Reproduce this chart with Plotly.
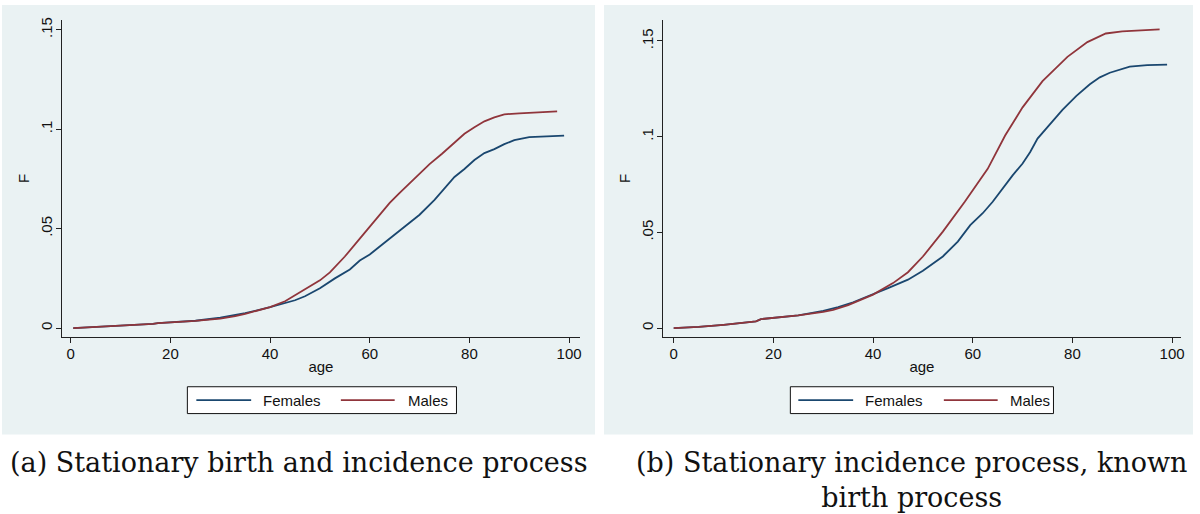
import plotly.graph_objects as go

# ---------------- data ----------------
# Panel (a): Stationary birth and incidence process
a_fem_age = [0.5, 5, 10, 15, 16.5, 17.5, 20, 25, 30, 35, 40, 45, 47, 50, 53, 56, 58, 60, 62, 65, 67,
             70, 73, 75, 77, 79, 81, 83, 85, 87, 89, 92, 95, 99]
a_fem_F = [0.0, 0.0005, 0.0012, 0.0019, 0.0021, 0.0025, 0.0028, 0.0037, 0.0052, 0.0075, 0.0105, 0.0140,
           0.0160, 0.0200, 0.0250, 0.0295, 0.0340, 0.0370, 0.0410, 0.0470, 0.0510, 0.0570, 0.0645,
           0.0700, 0.0760, 0.0800, 0.0845, 0.0880, 0.0900, 0.0925, 0.0945, 0.0960, 0.0965, 0.0968]
a_mal_age = [0.5, 5, 10, 15, 16.5, 17.5, 20, 25, 30, 33, 35, 40, 43, 47, 50, 52, 55, 58, 60, 62, 64,
             66, 68, 70, 72, 74.5, 77, 79, 81, 83, 85, 87, 90, 95, 97.6]
a_mal_F = [0.0, 0.0005, 0.0012, 0.0019, 0.0021, 0.0025, 0.0028, 0.0036, 0.0048, 0.0060, 0.0072, 0.0105,
           0.0135, 0.0195, 0.0240, 0.0280, 0.0360, 0.0450, 0.0510, 0.0570, 0.0630, 0.0680, 0.0730,
           0.0780, 0.0825, 0.0877, 0.0930, 0.0977, 0.1010, 0.1040, 0.1060, 0.1075, 0.1080, 0.1085, 0.1090]

# Panel (b): Stationary incidence process, known birth process
b_fem_age = [0, 5, 10, 15, 16.5, 17.5, 20, 25, 30, 33, 36, 40, 43, 47, 50, 54, 57, 59.5, 62, 64, 66,
             68, 70, 71.5, 73, 75, 78, 80.8, 83.5, 85.5, 87.5, 91.5, 95, 99]
b_fem_F = [0.0, 0.0006, 0.0017, 0.0030, 0.0035, 0.0047, 0.0053, 0.0066, 0.0090, 0.0110, 0.0135, 0.0175,
           0.0209, 0.0253, 0.0300, 0.0374, 0.0452, 0.0538, 0.0600, 0.0660, 0.0730, 0.0798, 0.0860,
           0.0919, 0.0990, 0.1049, 0.1140, 0.1213, 0.1274, 0.1310, 0.1334, 0.1366, 0.1374, 0.1376]
b_mal_age = [0, 5, 10, 15, 16.5, 17.5, 20, 25, 30, 32, 35, 40, 44, 47, 50, 54, 58.4, 61, 63, 66.5, 70,
             74, 79, 83, 86.7, 90, 95, 97.5]
b_mal_F = [0.0, 0.0006, 0.0017, 0.0030, 0.0035, 0.0047, 0.0053, 0.0066, 0.0085, 0.0095, 0.0120, 0.0175,
           0.0235, 0.0292, 0.0374, 0.0504, 0.0660, 0.0760, 0.0832, 0.1006, 0.1153, 0.1290, 0.1417,
           0.1494, 0.1539, 0.1550, 0.1556, 0.1560]

x_ticks = [0, 20, 40, 60, 80, 100]
y_tickvals = [0, 0.05, 0.1, 0.15]
y_ticktext = ["0", ".05", ".1", ".15"]
series_names = ["Females", "Males"]
captions = ["(a) Stationary birth and incidence process",
            "(b) Stationary incidence process, known<br>birth process"]

# ---------------- style ----------------
NAVY = "#1A476F"
MAROON = "#90353B"
BG = "#EAF2F3"
W, H = 1200, 514
SANS = "Liberation Sans, Arial, sans-serif"
SERIF = "DejaVu Serif, serif"
TXT = "#111"

fig = go.Figure()

traces = [
    (a_fem_age, a_fem_F, NAVY, "x", "y", series_names[0]),
    (a_mal_age, a_mal_F, MAROON, "x", "y", series_names[1]),
    (b_fem_age, b_fem_F, NAVY, "x2", "y2", series_names[0]),
    (b_mal_age, b_mal_F, MAROON, "x2", "y2", series_names[1]),
]
for xs, ys, col, xa, ya, nm in traces:
    fig.add_trace(go.Scatter(x=xs, y=ys, mode="lines", name=nm, showlegend=False,
                             line=dict(color=col, width=1.8), xaxis=xa, yaxis=ya))


def px_x(p):
    return p / W


def px_y(p):
    return 1 - p / H


ydom = [px_y(336), px_y(17)]


def xaxis_cfg(dom, rng, anchor):
    return dict(domain=dom, range=rng, anchor=anchor, tickvals=x_ticks, ticks="outside",
                ticklen=5, tickcolor="#222", showline=True, linecolor="#222", linewidth=1.2,
                showgrid=False, zeroline=False, tickfont=dict(family=SANS, size=15, color=TXT),
                ticklabelstandoff=-2,
                title=dict(text="age", font=dict(family=SANS, size=15, color=TXT), standoff=0))


def yaxis_cfg(rng, anchor):
    return dict(domain=ydom, range=rng, anchor=anchor, tickvals=y_tickvals, ticktext=y_ticktext,
                ticks="outside", ticklen=5, tickcolor="#222", showline=True, linecolor="#222",
                linewidth=1.2, showgrid=True, gridcolor=BG, gridwidth=1, zeroline=False,
                tickangle=-90, tickfont=dict(family=SANS, size=15, color=TXT),
                ticklabelstandoff=-2,
                title=dict(text="F", font=dict(family=SANS, size=15, color=TXT), standoff=4))


fig.update_layout(
    width=W, height=H, margin=dict(l=0, r=0, t=0, b=0),
    paper_bgcolor="white", plot_bgcolor="white", showlegend=False,
    xaxis=xaxis_cfg([px_x(62), px_x(582)], [-1.8, 102.2], "y"),
    yaxis=yaxis_cfg([-0.0045, 0.155], "x"),
    xaxis2=xaxis_cfg([px_x(665), px_x(1185)], [-2.2, 101.8], "y2"),
    yaxis2=yaxis_cfg([-0.00467, 0.161], "x2"),
)

# panel backgrounds
for x0, x1 in [(2, 597), (606, 1197)]:
    fig.add_shape(type="rect", xref="paper", yref="paper", x0=px_x(x0), x1=px_x(x1),
                  y0=px_y(434), y1=px_y(2), fillcolor=BG, line=dict(width=0), layer="below")

# legends (box, sample lines, labels) for each panel
legend_specs = [
    dict(box=(188, 458), s1=(197, 252), t1=262, s2=(342, 396), t2=407),
    dict(box=(793, 1057), s1=(801, 856), t1=866, s2=(947, 1001), t2=1011),
]
for spec in legend_specs:
    fig.add_shape(type="rect", xref="paper", yref="paper", x0=px_x(spec["box"][0]),
                  x1=px_x(spec["box"][1]), y0=px_y(413), y1=px_y(386),
                  fillcolor="white", line=dict(color="#111", width=1), layer="above")
    for (sx0, sx1), tx, col, nm in [(spec["s1"], spec["t1"], NAVY, series_names[0]),
                                    (spec["s2"], spec["t2"], MAROON, series_names[1])]:
        fig.add_shape(type="line", xref="paper", yref="paper", x0=px_x(sx0), x1=px_x(sx1),
                      y0=px_y(399.5), y1=px_y(399.5), line=dict(color=col, width=1.8),
                      layer="above")
        fig.add_annotation(text=nm, xref="paper", yref="paper", x=px_x(tx), y=px_y(399.5),
                           xanchor="left", yanchor="middle", showarrow=False,
                           font=dict(family=SANS, size=15, color=TXT))

# captions
fig.add_annotation(text=captions[0], xref="paper", yref="paper", x=px_x(300), y=px_y(445),
                   xanchor="center", yanchor="top", showarrow=False, align="center",
                   font=dict(family=SERIF, size=27, color=TXT))
fig.add_annotation(text=captions[1], xref="paper", yref="paper", x=px_x(915), y=px_y(445),
                   xanchor="center", yanchor="top", showarrow=False, align="center",
                   font=dict(family=SERIF, size=27, color=TXT))

fig.write_html("out.html", config={"displayModeBar": False},
               post_script="document.body.style.margin='0';")
